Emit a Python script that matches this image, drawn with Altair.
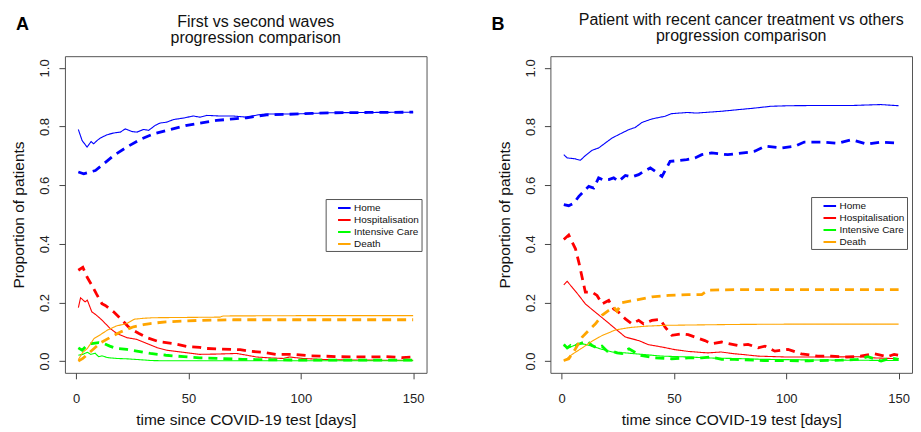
import altair as alt
import pandas as pd

FONT = "Liberation Sans"
STATES = ["Home", "Hospitalisation", "Intensive Care", "Death"]
COLORS = ["#0000FF", "#FF0000", "#00FF00", "#FFA500"]
X_TICKS = [0, 50, 100, 150]
Y_TICKS = [0.0, 0.2, 0.4, 0.6, 0.8, 1.0]

# ---------------- Panel A : first (solid) vs second (dashed) wave ----------------
A_home_solid_d = [1, 2.7, 4.9, 6.7, 7.8, 9.3, 10.8, 13.8, 16.7, 19.7, 21.9, 24.9, 27.1, 30, 32.3, 35.2, 37.4, 40.4, 43.4, 47.8, 52.2, 55.2, 58.1, 64, 70, 75.9, 81.1, 84.8, 98, 113, 130, 150]
A_home_solid_v = [0.79, 0.752, 0.73, 0.749, 0.741, 0.752, 0.761, 0.772, 0.778, 0.781, 0.792, 0.783, 0.781, 0.79, 0.787, 0.804, 0.812, 0.815, 0.824, 0.829, 0.836, 0.832, 0.838, 0.836, 0.836, 0.832, 0.84, 0.843, 0.843, 0.847, 0.848, 0.849]
A_home_dash_d = [1, 3.4, 8.6, 12.3, 16.7, 22.6, 28.5, 34.5, 41.9, 49.3, 55.2, 62.6, 70, 75.9, 84.8, 95, 105, 115, 130, 150]
A_home_dash_v = [0.645, 0.639, 0.65, 0.673, 0.701, 0.73, 0.756, 0.775, 0.79, 0.804, 0.812, 0.821, 0.826, 0.83, 0.84, 0.842, 0.845, 0.847, 0.848, 0.849]

A_hosp_solid_d = [1, 2, 4, 5, 7, 9, 11.5, 15.2, 18.2, 22.6, 27, 31.5, 36, 40.4, 47.8, 55, 62.6, 71.5, 76, 80.3, 86, 92.2, 95, 101, 111.4, 120, 135, 150]
A_hosp_solid_v = [0.182, 0.216, 0.202, 0.208, 0.168, 0.157, 0.14, 0.111, 0.094, 0.08, 0.074, 0.06, 0.046, 0.037, 0.03, 0.023, 0.024, 0.026, 0.02, 0.014, 0.011, 0.009, 0.014, 0.009, 0.005, 0.004, 0.003, 0.003]
A_hosp_dash_d = [1, 3, 5, 7, 9, 11.5, 13, 16.7, 20.4, 24, 28, 31.5, 37, 43, 50, 55, 58, 65, 73, 77, 83, 89, 97, 104, 110, 116, 130, 138, 145, 150]
A_hosp_dash_v = [0.31, 0.32, 0.285, 0.259, 0.23, 0.196, 0.19, 0.168, 0.14, 0.111, 0.094, 0.08, 0.066, 0.06, 0.049, 0.047, 0.043, 0.041, 0.039, 0.034, 0.03, 0.023, 0.023, 0.018, 0.017, 0.015, 0.014, 0.015, 0.012, 0.014]

A_icu_solid_d = [1, 3, 5, 6.5, 8.5, 10, 11.5, 14, 18, 22, 26, 30, 33, 40, 60, 90, 120, 150]
A_icu_solid_v = [0.02, 0.023, 0.03, 0.023, 0.027, 0.015, 0.018, 0.012, 0.009, 0.008, 0.006, 0.004, 0.002, 0.001, 0.001, 0.001, 0.001, 0.001]
A_icu_dash_d = [1, 2.7, 5, 7, 10, 12.3, 15, 18, 22.6, 27, 33, 40, 48, 55, 63, 74, 90, 110, 130, 150]
A_icu_dash_v = [0.045, 0.037, 0.055, 0.06, 0.063, 0.06, 0.051, 0.043, 0.04, 0.034, 0.026, 0.02, 0.015, 0.011, 0.009, 0.006, 0.004, 0.003, 0.003, 0.003]

A_death_solid_d = [1, 3, 5, 8, 11, 14, 18, 22.6, 26, 30, 34.5, 50, 64, 65.5, 100, 150]
A_death_solid_v = [0.005, 0.03, 0.043, 0.077, 0.091, 0.106, 0.12, 0.128, 0.143, 0.146, 0.148, 0.149, 0.15, 0.154, 0.155, 0.155]
A_death_dash_d = [1, 3, 5, 8, 11, 15, 20, 25.6, 30, 33, 40, 55, 70, 90, 120, 150]
A_death_dash_v = [0.0, 0.009, 0.023, 0.043, 0.063, 0.08, 0.1, 0.117, 0.124, 0.128, 0.134, 0.139, 0.141, 0.141, 0.141, 0.141]

# ---------------- Panel B : others (solid) vs recent cancer treatment (dashed) ----------------
B_home_solid_d = [1, 2.5, 6, 8.4, 10.6, 13.6, 16.5, 19.5, 22.5, 26.9, 29.8, 32.8, 35.8, 40.2, 46, 49, 56, 60, 71, 86, 93, 101, 116, 130, 142, 150]
B_home_solid_v = [0.704, 0.693, 0.69, 0.685, 0.701, 0.719, 0.727, 0.744, 0.761, 0.778, 0.789, 0.797, 0.814, 0.826, 0.835, 0.844, 0.848, 0.846, 0.852, 0.863, 0.869, 0.871, 0.872, 0.872, 0.875, 0.871]
B_home_dash_d = [1, 3.2, 5.5, 7.7, 9.9, 12.1, 14.3, 16.5, 18.8, 21, 23.2, 25.4, 28.4, 31.3, 34.3, 36.5, 39.5, 41.7, 44.7, 48.3, 52, 55.7, 59.4, 62.4, 66.8, 74, 83, 86, 90.5, 98, 104, 108, 116, 123, 129, 136, 142, 150]
B_home_dash_v = [0.534, 0.53, 0.539, 0.562, 0.579, 0.596, 0.59, 0.625, 0.617, 0.619, 0.625, 0.613, 0.633, 0.628, 0.636, 0.647, 0.659, 0.647, 0.63, 0.681, 0.684, 0.687, 0.693, 0.704, 0.71, 0.704, 0.712, 0.716, 0.733, 0.727, 0.733, 0.747, 0.747, 0.743, 0.755, 0.74, 0.747, 0.743]

B_hosp_solid_d = [1, 2.5, 4.7, 7.7, 10.6, 15, 19.5, 24, 28.4, 34.3, 38.7, 44.7, 50.5, 56.4, 65, 71, 77, 80, 87.5, 100, 117, 132, 139, 150]
B_hosp_solid_v = [0.26, 0.272, 0.252, 0.224, 0.195, 0.167, 0.139, 0.11, 0.082, 0.07, 0.056, 0.048, 0.039, 0.033, 0.028, 0.031, 0.025, 0.023, 0.017, 0.014, 0.014, 0.015, 0.011, 0.008]
B_hosp_dash_d = [1, 3.2, 6.2, 7.7, 10.6, 13.6, 15.8, 18, 21, 23.2, 25.4, 28.4, 31.3, 34.3, 36.5, 40.2, 43.9, 46.1, 49.1, 53.5, 56.4, 59.4, 63.8, 66.8, 71.3, 78.6, 83, 87.5, 90.5, 94.9, 100.8, 106.7, 114, 120, 127, 133, 139, 145, 148, 150]
B_hosp_dash_v = [0.415, 0.43, 0.383, 0.337, 0.235, 0.235, 0.224, 0.195, 0.207, 0.178, 0.167, 0.144, 0.127, 0.139, 0.127, 0.139, 0.142, 0.116, 0.088, 0.093, 0.09, 0.082, 0.07, 0.059, 0.065, 0.053, 0.057, 0.045, 0.051, 0.034, 0.04, 0.025, 0.017, 0.017, 0.014, 0.017, 0.025, 0.015, 0.023, 0.02]

B_icu_solid_d = [1, 3.2, 5.5, 7.7, 10.6, 13.6, 18, 22.5, 28.4, 35.8, 44.7, 56.4, 68.3, 77, 90, 110, 130, 150]
B_icu_solid_v = [0.051, 0.045, 0.053, 0.06, 0.057, 0.051, 0.04, 0.031, 0.028, 0.023, 0.017, 0.014, 0.01, 0.009, 0.006, 0.004, 0.003, 0.002]
B_icu_dash_d = [1, 2.5, 4, 5.5, 7, 8.4, 11.4, 13.6, 15.8, 18, 20.3, 22.5, 24.7, 26.9, 28.4, 30, 35, 41.7, 49, 56.4, 62.4, 66.8, 71.3, 77, 90, 110, 124.5, 131.8, 136.3, 142.2, 146.6, 150]
B_icu_dash_v = [0.057, 0.045, 0.053, 0.045, 0.057, 0.06, 0.068, 0.053, 0.045, 0.051, 0.034, 0.034, 0.028, 0.026, 0.037, 0.042, 0.02, 0.011, 0.008, 0.011, 0.011, 0.014, 0.006, 0.006, 0.002, 0.001, 0.003, 0.006, 0.015, 0.0, 0.011, 0.006]

B_death_solid_d = [1, 4.7, 9.2, 13.6, 18, 23.9, 29.8, 37.2, 46.1, 56.4, 77, 100, 150]
B_death_solid_v = [0.0, 0.023, 0.045, 0.068, 0.087, 0.106, 0.114, 0.119, 0.122, 0.123, 0.125, 0.126, 0.126]
B_death_dash_d = [1, 3.2, 6.2, 9.2, 12.1, 15.1, 18, 21, 23.2, 24.7, 26.9, 32.8, 40.2, 47.6, 56.4, 62.4, 65.3, 77, 100, 150]
B_death_dash_v = [0.002, 0.008, 0.042, 0.082, 0.105, 0.127, 0.156, 0.173, 0.184, 0.17, 0.199, 0.208, 0.219, 0.224, 0.227, 0.227, 0.242, 0.244, 0.244, 0.244]


def build(series):
    rows = []
    for state, style, days, vals in series:
        for d, v in zip(days, vals):
            rows.append({"day": d, "value": v, "state": state, "style": style})
    return pd.DataFrame(rows)


dfA = build([
    ("Home", "solid", A_home_solid_d, A_home_solid_v),
    ("Home", "dashed", A_home_dash_d, A_home_dash_v),
    ("Hospitalisation", "solid", A_hosp_solid_d, A_hosp_solid_v),
    ("Hospitalisation", "dashed", A_hosp_dash_d, A_hosp_dash_v),
    ("Intensive Care", "solid", A_icu_solid_d, A_icu_solid_v),
    ("Intensive Care", "dashed", A_icu_dash_d, A_icu_dash_v),
    ("Death", "solid", A_death_solid_d, A_death_solid_v),
    ("Death", "dashed", A_death_dash_d, A_death_dash_v),
])
dfB = build([
    ("Home", "solid", B_home_solid_d, B_home_solid_v),
    ("Home", "dashed", B_home_dash_d, B_home_dash_v),
    ("Hospitalisation", "solid", B_hosp_solid_d, B_hosp_solid_v),
    ("Hospitalisation", "dashed", B_hosp_dash_d, B_hosp_dash_v),
    ("Intensive Care", "solid", B_icu_solid_d, B_icu_solid_v),
    ("Intensive Care", "dashed", B_icu_dash_d, B_icu_dash_v),
    ("Death", "solid", B_death_solid_d, B_death_solid_v),
    ("Death", "dashed", B_death_dash_d, B_death_dash_v),
])

NBSP1 = "\u00a0"
# legend line symbol: short stroke drawn right of centre, leaving a gap at the left like R's legend
LEGEND_SYMBOL = "M-1,0M0.567,0L2.667,0"


def panel(df, title_lines, letter, title_offset, legend_y, letter_x, letter_y):
    lines = alt.Chart(df).mark_line(clip=True).encode(
        x=alt.X("day:Q",
                scale=alt.Scale(domain=[-4.96, 155.96], nice=False, zero=False),
                axis=alt.Axis(values=X_TICKS, title="time since COVID-19 test [days]",
                              labelPadding=14, titlePadding=7)),
        y=alt.Y("value:Q",
                scale=alt.Scale(domain=[-0.04, 1.04], nice=False, zero=False),
                axis=alt.Axis(values=Y_TICKS, format=".1f", labelAngle=270,
                              labelAlign="center", labelBaseline="alphabetic",
                              labelPadding=10, title="Proportion of patients", titlePadding=12)),
        color=alt.Color("state:N", sort=STATES,
                        scale=alt.Scale(domain=STATES, range=COLORS),
                        legend=alt.Legend(orient="none", legendX=261, legendY=legend_y, title=None,
                                          labelExpr="datum.label + '" + NBSP1 + "'")),
        strokeDash=alt.StrokeDash("style:N",
                                  scale=alt.Scale(domain=["solid", "dashed"], range=[[1, 0], [9, 6]]),
                                  legend=None),
        strokeWidth=alt.StrokeWidth("style:N",
                                    scale=alt.Scale(domain=["solid", "dashed"], range=[1.1, 2.8]),
                                    legend=None),
    )
    tag = alt.Chart(pd.DataFrame({"t": [letter]})).mark_text(
        font=FONT, fontSize=18, fontWeight="bold", align="left", baseline="alphabetic", color="#000"
    ).encode(text="t:N", x=alt.value(letter_x), y=alt.value(letter_y))
    return alt.layer(lines, tag).properties(
        width=362, height=317,
        title=alt.Title(title_lines, dx=10, offset=title_offset, fontSize=16, frame="group",
                        fontWeight="normal", font=FONT, color="#111", lineHeight=16.5, anchor="middle"),
    )


pA = panel(dfA, ["First vs second waves", "progression comparison"], "A", -30, 143, -49, -26)
pB = panel(dfB, ["Patient with recent cancer treatment vs others", "progression comparison"], "B", -28, 141, -59, -26)

chart = alt.hconcat(pA, pB, spacing=63).resolve_scale(
    color="independent", strokeDash="independent", strokeWidth="independent"
).resolve_legend(color="independent").properties(
    padding={"left": 3, "top": 3, "right": 0, "bottom": 0}
).configure_view(stroke="#555", strokeWidth=1).configure_axis(
    grid=False, domain=False, ticks=True, tickSize=6, tickColor="#444",
    labelFont=FONT, labelFontSize=13, labelColor="#222",
    titleFont=FONT, titleFontSize=15.5, titleFontWeight="normal", titleColor="#111",
).configure_legend(
    symbolType=LEGEND_SYMBOL, symbolSize=144, symbolStrokeWidth=2, symbolFillColor="transparent",
    labelFont=FONT, labelFontSize=10,
    labelColor="#111", rowPadding=0, padding=2, symbolOffset=0, labelOffset=12.4,
    strokeColor="#555", fillColor="white",
)

chart.save("out.html", embed_options={"renderer": "svg", "actions": False})
